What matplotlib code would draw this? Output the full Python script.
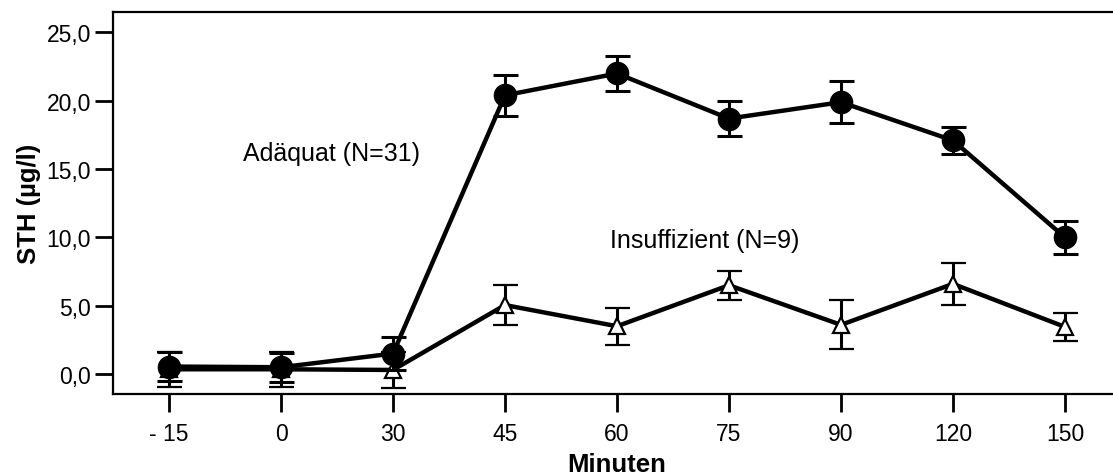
"""STH-Verlauf nach Stimulation: adäquate vs. insuffiziente Antwort."""

import matplotlib

matplotlib.use("Agg")
import matplotlib.pyplot as plt
from matplotlib.ticker import FuncFormatter

plt.rcParams["font.family"] = ["Liberation Sans", "DejaVu Sans"]

minutes = ["- 15", "0", "30", "45", "60", "75", "90", "120", "150"]

adaequat = [0.55, 0.5, 1.5, 20.4, 22.0, 18.7, 19.9, 17.1, 10.0]
adaequat_err = [1.05, 1.05, 1.2, 1.5, 1.25, 1.27, 1.56, 1.0, 1.22]

insuff = [0.35, 0.35, 0.3, 5.05, 3.5, 6.5, 3.6, 6.6, 3.45]
insuff_err = [1.3, 1.3, 1.3, 1.47, 1.34, 1.06, 1.79, 1.51, 1.02]


def main() -> int:
    fig = plt.figure(figsize=(11.13, 4.77), dpi=100)
    # right spine sits just outside the picture, as in the original
    ax = fig.add_axes([113 / 1113, 82 / 477, 1008 / 1113, 382 / 477])
    x = list(range(len(minutes)))

    ax.errorbar(x, insuff, yerr=insuff_err, color="black", lw=3.2,
                elinewidth=2.2, capsize=9, capthick=2.2,
                marker="^", ms=11, mfc="white", mec="black", mew=1.6,
                zorder=2)
    ax.errorbar(x, adaequat, yerr=adaequat_err, color="black", lw=3.2,
                elinewidth=2.2, capsize=9, capthick=2.2,
                marker="o", ms=16, mfc="black", mec="black", zorder=3)

    ax.set_xlim(-0.5, len(minutes) - 0.5)
    ax.set_ylim(-1.46, 26.5)
    ax.set_xticks(x)
    ax.set_xticklabels(minutes)
    ax.set_yticks([0, 5, 10, 15, 20, 25])
    ax.yaxis.set_major_formatter(
        FuncFormatter(lambda v, _: f"{v:.1f}".replace(".", ",")))
    ax.tick_params(length=13, width=2, labelsize=16.5)
    ax.tick_params(axis="x", pad=7)
    ax.tick_params(axis="y", pad=3)

    for spine in ax.spines.values():
        spine.set_linewidth(1.6)

    ax.set_xlabel("Minuten", fontsize=18.5, fontweight="bold", labelpad=5)
    ax.set_ylabel("STH (µg/l)", fontsize=18.5, fontweight="bold", labelpad=4)

    ax.text(0.66, 16.2, "Adäquat (N=31)", fontsize=18, va="center")
    ax.text(3.94, 9.8, "Insuffizient (N=9)", fontsize=18, va="center")

    fig.savefig("out.png")
    return 0


if __name__ == "__main__":
    raise SystemExit(main())
